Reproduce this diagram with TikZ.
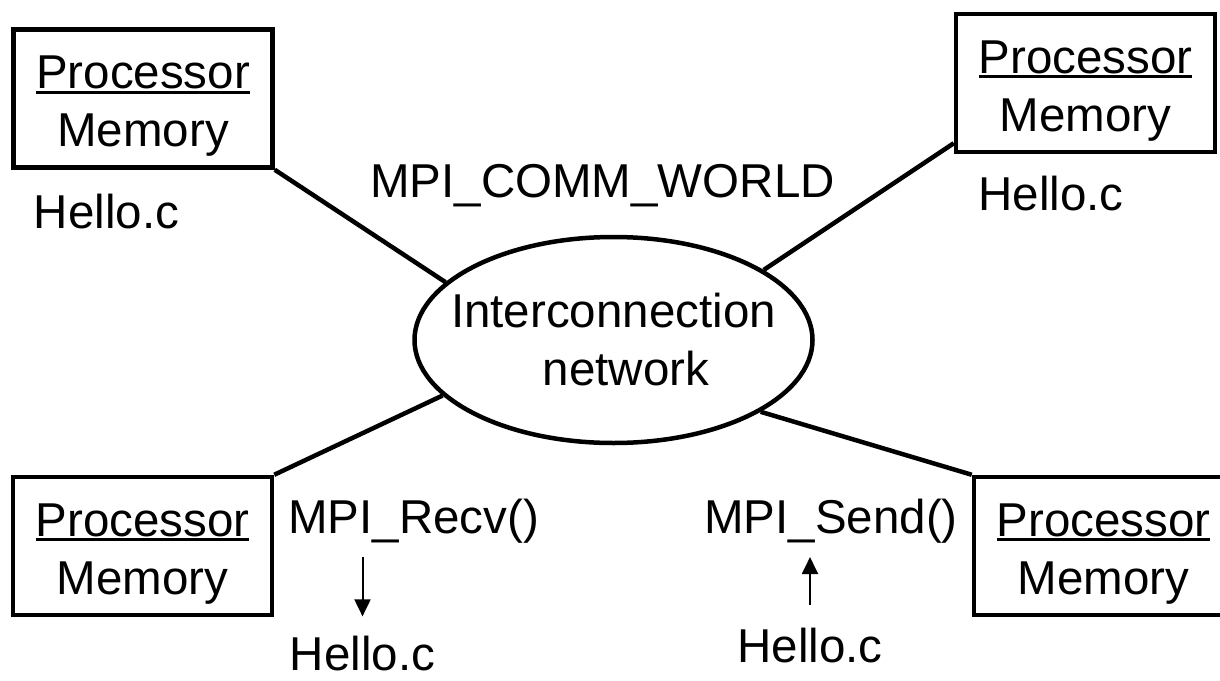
\documentclass[tikz,border=0pt]{standalone}
\usepackage{fontspec}
\setmainfont{Liberation Sans}
\usetikzlibrary{shapes.geometric,arrows.meta}
\newcommand{\myul}[1]{\setbox0\hbox{#1}\rlap{\rule[-5pt]{\wd0}{2.8pt}}\box0}
\tikzset{
  pbox/.style={draw, line width=4.5pt, minimum width=259pt, minimum height=138pt,
    inner sep=0pt, align=center},
  lbl/.style={inner sep=0pt, anchor=base},
  conn/.style={line width=4.5pt},
  arr/.style={line width=2pt, -{Triangle[length=17pt,width=16pt]}}
}
\begin{document}
\begin{tikzpicture}[x=1pt, y=-1pt, font=\fontsize{47.5}{58}\selectfont]
\useasboundingbox (0,0) rectangle (1220,680);
\fill[white] (0,0) rectangle (1220,680);
% processor boxes
\node[pbox] (p1) at (143,98.5) {\rule{0pt}{48pt}\myul{Processor}\\Memory};
\node[pbox] (p2) at (1085.5,83) {\rule{0pt}{48pt}\myul{Processor}\\Memory};
\node[pbox] (p3) at (142.5,546) {\rule{0pt}{48pt}\myul{Processor}\\Memory};
\node[pbox] (p4) at (1103.5,546) {\rule{0pt}{48pt}\myul{Processor}\\Memory};
% network
\node[ellipse, draw, line width=4.5pt, minimum width=398pt, minimum height=206pt, inner sep=0pt,
  label={[name=etext, align=center, inner sep=0pt]center:Interconnection\\\hspace*{25pt}network}]
  (e) at (613.5,340) {};
% connectors
\draw[conn] (p1.south east) -- (e.161.5);
\draw[conn] ([yshift=11pt]p2.south west) -- (e.25.7);
\draw[conn] (p3.north east) -- (e.198.5);
\draw[conn] (p4.north west) -- (e.334.3);
% labels
\node[lbl] (world) at (602.5,197) {MPI\_COMM\_WORLD};
\node[lbl] (h1) at (106.5,228) {Hello.c};
\node[lbl] (h2) at (1051,210) {Hello.c};
\node[lbl] (recv) at (413.5,533) {MPI\_Recv()};
\node[lbl] (send) at (831,533) {MPI\_Send()};
\node[lbl] (h3) at (362.5,670) {Hello.c};
\node[lbl] (h4) at (810,662) {Hello.c};
% arrows
\draw[arr] ([yshift=-14pt]recv.south -| h3.north) -- ([yshift=19pt]h3.north);
\draw[arr] ([yshift=22.5pt]h4.north) -- ([yshift=-14pt]send.south -| h4.north);
\end{tikzpicture}
\end{document}
